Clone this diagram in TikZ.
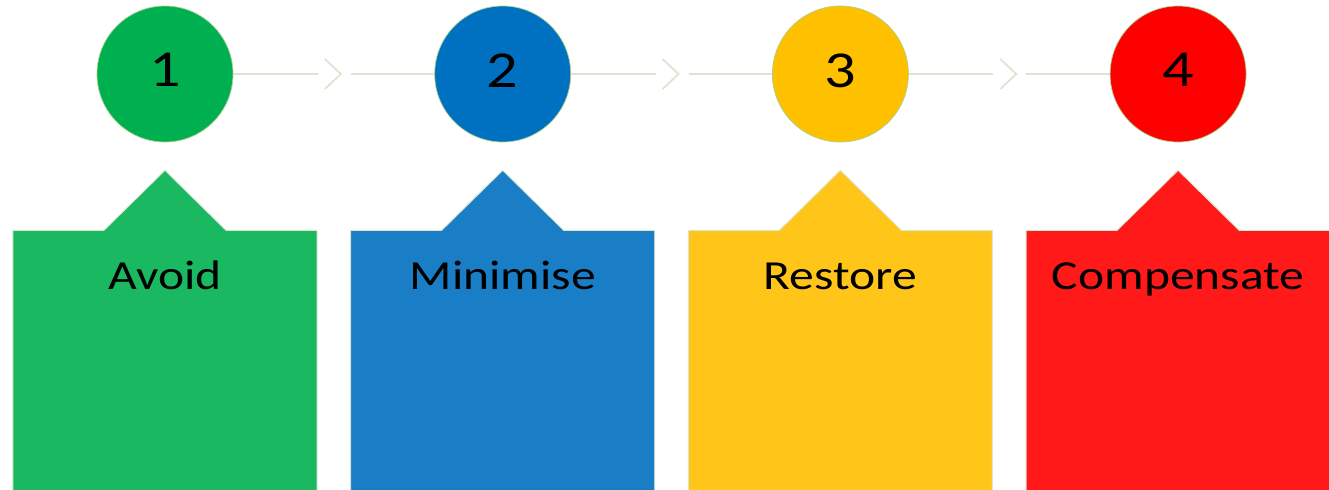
\documentclass[tikz,border=0pt]{standalone}
\usepackage{fontspec}
\setmainfont[FakeStretch=1.2]{Carlito}
\usetikzlibrary{positioning,calc}

\definecolor{stepgreen}{HTML}{00B050}
\definecolor{stepblue}{HTML}{0070C0}
\definecolor{stepyellow}{HTML}{FFC000}
\definecolor{stepred}{HTML}{FF0000}
\definecolor{linkline}{HTML}{D9E6D0}
\definecolor{rimgreen}{HTML}{A9D18E}

\begin{document}
\begin{tikzpicture}[
  node distance=4.02cm,
  num/.style={circle, minimum size=2.72cm, inner sep=0pt, fill=#1, draw=rimgreen, line width=0.4pt,
    text depth=0.15cm, font=\fontsize{29.5}{35}\selectfont},
  card/.style={fill=#1!90!white, draw=linkline, line width=0.5pt},
  cardtext/.style={anchor=base, font=\fontsize{23.5}{28}\selectfont},
  link/.style={draw=linkline, line width=1pt},
]
\clip (-3.3,1.48) rectangle (23.28,-8.3);

% step circles
\node[num=stepgreen] (n1) {1};
\node[num=stepblue, right=of n1] (n2) {2};
\node[num=stepyellow, right=of n2] (n3) {3};
\node[num=stepred, right=of n3] (n4) {4};

% connectors with an open chevron halfway
\coordinate (m12) at ($(n1.east)!0.5!(n2.west)$);
\coordinate (m23) at ($(n2.east)!0.5!(n3.west)$);
\coordinate (m34) at ($(n3.east)!0.5!(n4.west)$);
\draw[link] (n1) -- ([xshift=-0.32cm]m12);
\draw[link] ([xshift=0.34cm]m12) -- (n2);
\draw[link] ([shift={(-0.18,0.3)}]m12) -- ([xshift=0.14cm]m12) -- ([shift={(-0.18,-0.3)}]m12);
\draw[link] (n2) -- ([xshift=-0.32cm]m23);
\draw[link] ([xshift=0.34cm]m23) -- (n3);
\draw[link] ([shift={(-0.18,0.3)}]m23) -- ([xshift=0.14cm]m23) -- ([shift={(-0.18,-0.3)}]m23);
\draw[link] (n3) -- ([xshift=-0.32cm]m34);
\draw[link] ([xshift=0.34cm]m34) -- (n4);
\draw[link] ([shift={(-0.18,0.3)}]m34) -- ([xshift=0.14cm]m34) -- ([shift={(-0.18,-0.3)}]m34);

% cards with a pointed tab under each circle
\coordinate[below=1.76cm of n1] (t1);
\coordinate[below=1.76cm of n2] (t2);
\coordinate[below=1.76cm of n3] (t3);
\coordinate[below=1.76cm of n4] (t4);
\path[card=stepgreen] (t1) ++(-3.04,0) -- ++(1.82,0) -- ++(1.22,1.2) -- ++(1.22,-1.2) -- ++(1.82,0) -- ++(0,-5.4) -- ++(-6.08,0) -- cycle;
\path[card=stepblue] (t2) ++(-3.04,0) -- ++(1.82,0) -- ++(1.22,1.2) -- ++(1.22,-1.2) -- ++(1.82,0) -- ++(0,-5.4) -- ++(-6.08,0) -- cycle;
\path[card=stepyellow] (t3) ++(-3.04,0) -- ++(1.82,0) -- ++(1.22,1.2) -- ++(1.22,-1.2) -- ++(1.82,0) -- ++(0,-5.4) -- ++(-6.08,0) -- cycle;
\path[card=stepred] (t4) ++(-3.04,0) -- ++(1.82,0) -- ++(1.22,1.2) -- ++(1.22,-1.2) -- ++(1.82,0) -- ++(0,-5.4) -- ++(-6.08,0) -- cycle;

\node[below=1.18cm of t1, cardtext] (l1) {Avoid};
\node[below=1.18cm of t2, cardtext] (l2) {Minimise};
\node[below=1.18cm of t3, cardtext] (l3) {Restore};
\node[below=1.18cm of t4, cardtext] (l4) {Compensate};
\end{tikzpicture}
\end{document}
